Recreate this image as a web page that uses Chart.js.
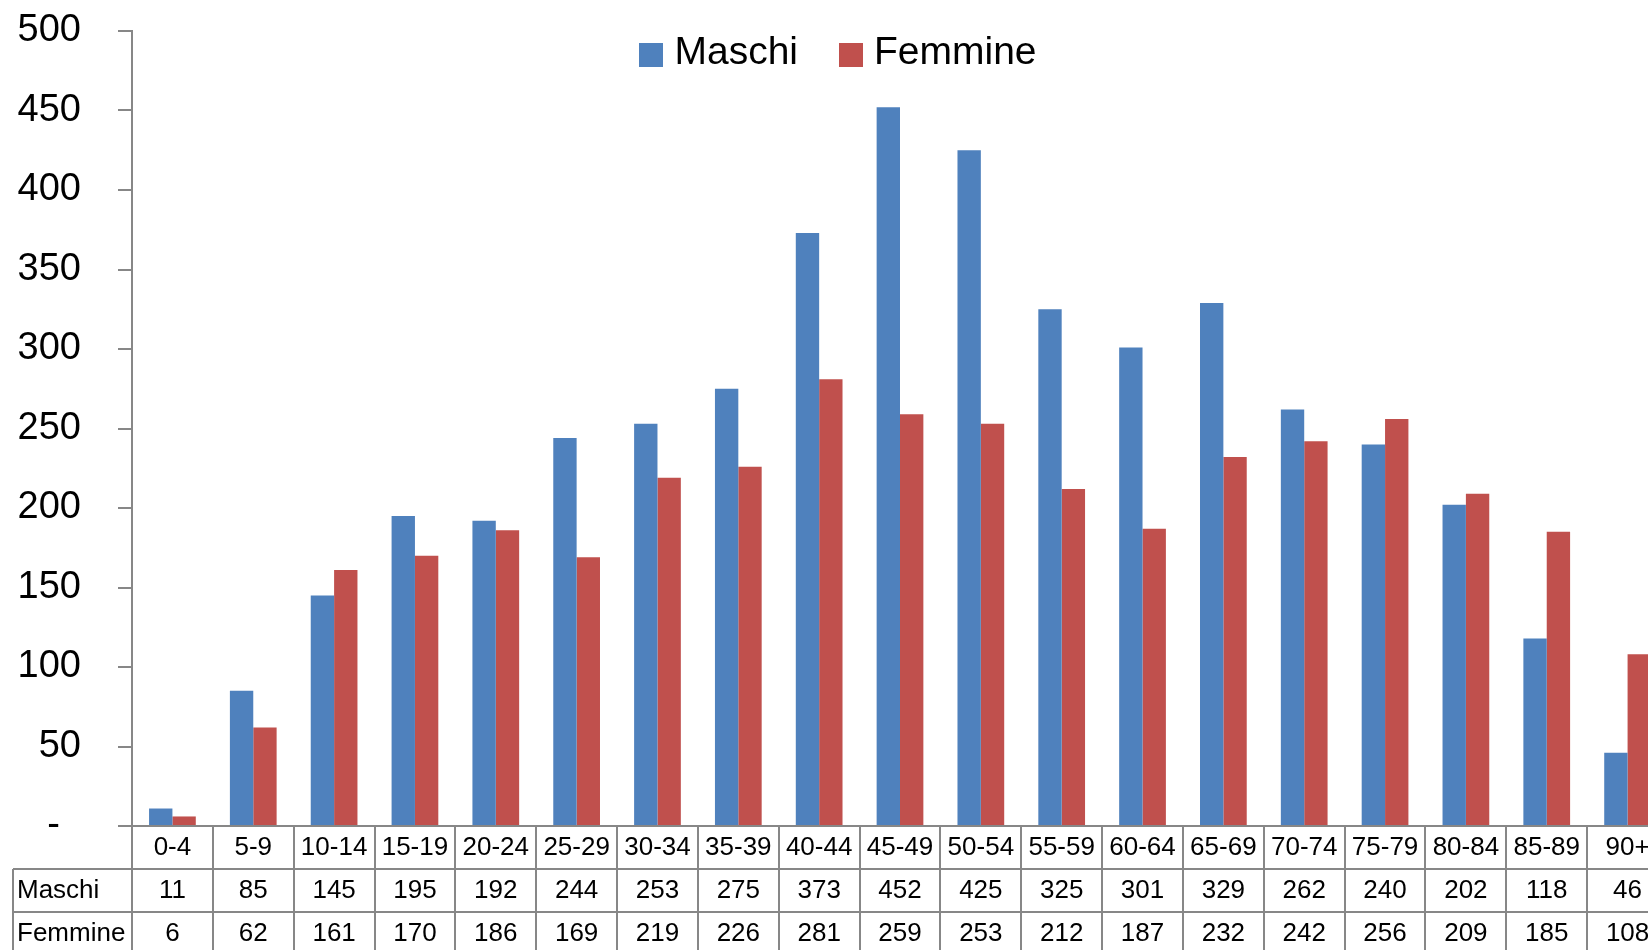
<!DOCTYPE html>
<html>
<head>
<meta charset="utf-8">
<script src="https://cdn.jsdelivr.net/npm/chart.js@4/dist/chart.umd.min.js"></script>
<style>
  html, body { margin: 0; padding: 0; overflow: hidden; background: #ffffff; }
  #wrap { position: absolute; left: 0; top: 0; }
  canvas { display: block; }
</style>
</head>
<body>
<div id="wrap"><canvas id="c" width="1676" height="960"></canvas></div>
<script>
const categories = ['0-4','5-9','10-14','15-19','20-24','25-29','30-34','35-39','40-44','45-49','50-54','55-59','60-64','65-69','70-74','75-79','80-84','85-89','90+'];
const maschi  = [11, 85, 145, 195, 192, 244, 253, 275, 373, 452, 425, 325, 301, 329, 262, 240, 202, 118, 46];
const femmine = [6, 62, 161, 170, 186, 169, 219, 226, 281, 259, 253, 212, 187, 232, 242, 256, 209, 185, 108];
const seriesNames = ['Maschi', 'Femmine'];
const yTicks = [0, 50, 100, 150, 200, 250, 300, 350, 400, 450, 500];

const FONT = "'Liberation Sans', Arial, sans-serif";
const LINE = '#878787';
const ROW_H = 43;
const TABLE_LEFT = 13;
const LEGEND_CX = 838;
const LEGEND_CY = 55;

const tableLabels = categories.map((c, i) => [c, String(maschi[i]), String(femmine[i])]);

const legendPlugin = {
  id: 'overlayLegend',
  afterDraw(chart) {
    const { ctx } = chart;
    const box = 24, gap = 11, itemGap = 41;
    ctx.save();
    ctx.font = '39px ' + FONT;
    const items = chart.data.datasets.map(ds => ({ text: ds.label, color: ds.backgroundColor, w: ctx.measureText(ds.label).width }));
    let total = 0;
    items.forEach((it, i) => { total += box + gap + it.w + (i ? itemGap : 0); });
    let x = LEGEND_CX - total / 2;
    ctx.textAlign = 'left';
    ctx.textBaseline = 'middle';
    items.forEach((it, i) => {
      if (i) x += itemGap;
      ctx.fillStyle = it.color;
      ctx.fillRect(Math.round(x), LEGEND_CY - box / 2, box, box);
      x += box + gap;
      ctx.fillStyle = '#000';
      ctx.fillText(it.text, x, LEGEND_CY - 2);
      x += it.w;
    });
    ctx.restore();
  }
};

const tablePlugin = {
  id: 'dataTable',
  afterDraw(chart) {
    const { ctx, chartArea, scales } = chart;
    const x = scales.x;
    const n = categories.length;
    const half = (x.getPixelForValue(1) - x.getPixelForValue(0)) / 2;
    const top = chartArea.bottom;
    const bottom = chart.height;
    ctx.save();
    ctx.strokeStyle = LINE;
    ctx.lineWidth = 2;
    ctx.beginPath();
    for (let i = 0; i <= n; i++) {
      const px = Math.round(x.getPixelForValue(i) - half);
      ctx.moveTo(px, top);
      ctx.lineTo(px, bottom);
    }
    ctx.moveTo(TABLE_LEFT, top + ROW_H);
    ctx.lineTo(TABLE_LEFT, bottom);
    for (let r = 1; r <= 2; r++) {
      const py = Math.round(top + r * ROW_H);
      ctx.moveTo(TABLE_LEFT, py);
      ctx.lineTo(chart.width, py);
    }
    ctx.stroke();
    ctx.fillStyle = '#000';
    ctx.font = '26px ' + FONT;
    ctx.textAlign = 'left';
    ctx.textBaseline = 'middle';
    seriesNames.forEach((name, r) => {
      ctx.fillText(name, TABLE_LEFT + 4, top + (r + 1.5) * ROW_H);
    });
    ctx.restore();
  }
};

new Chart(document.getElementById('c'), {
  type: 'bar',
  data: {
    labels: tableLabels,
    datasets: [
      { label: seriesNames[0], data: maschi, backgroundColor: '#4F81BD', borderWidth: 0 },
      { label: seriesNames[1], data: femmine, backgroundColor: '#C0504D', borderWidth: 0 }
    ]
  },
  options: {
    responsive: false,
    animation: false,
    devicePixelRatio: 1,
    datasets: { bar: { categoryPercentage: 0.578, barPercentage: 1.0 } },
    layout: { padding: { left: 0, right: 8, top: 31, bottom: 5 } },
    plugins: {
      tooltip: { enabled: false },
      legend: { display: false }
    },
    scales: {
      x: {
        grid: { display: false, drawTicks: false },
        border: { display: true, color: LINE, width: 2 },
        ticks: {
          autoSkip: false,
          maxRotation: 0,
          minRotation: 0,
          padding: 0,
          color: '#000',
          font: { family: FONT, size: 26, lineHeight: ROW_H / 26 }
        }
      },
      y: {
        min: 0,
        max: 500,
        afterBuildTicks(scale) { scale.ticks = yTicks.map(v => ({ value: v })); },
        afterFit(scale) { scale.width = 132; scale.paddingTop = 0; scale.paddingBottom = 0; },
        grid: { drawOnChartArea: false, drawTicks: true, tickLength: 14, color: LINE, lineWidth: 2 },
        border: { display: true, color: LINE, width: 2 },
        ticks: {
          padding: 37,
          color: '#000',
          font: { family: FONT, size: 38 },
          callback: (v) => v === 0 ? '-  ' : String(v)
        }
      }
    }
  },
  plugins: [tablePlugin, legendPlugin]
});
</script>
</body>
</html>
